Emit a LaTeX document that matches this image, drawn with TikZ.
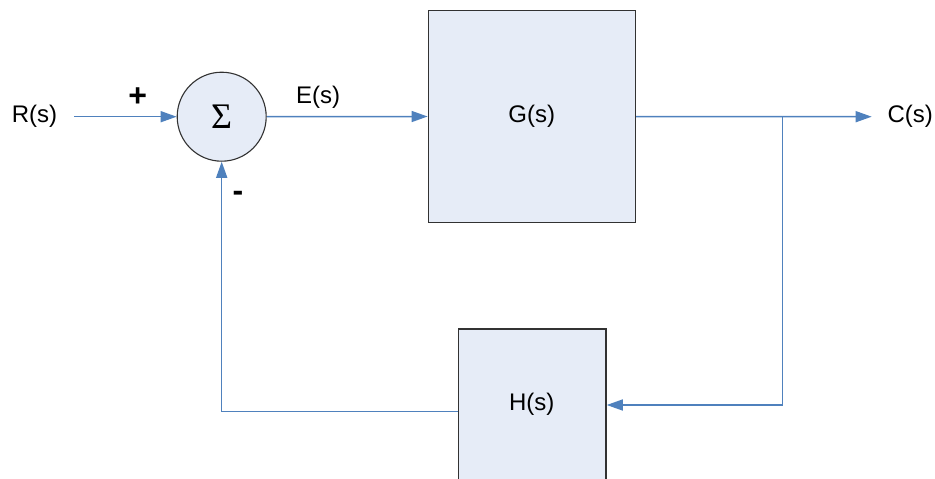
\documentclass[tikz,border=0pt]{standalone}
\usepackage{fontspec}
\setmainfont{Liberation Sans}
\newfontfamily\sigmafont{Liberation Serif}
\usetikzlibrary{arrows.meta}
\definecolor{sigblue}{RGB}{79,129,189}
\definecolor{boxfill}{RGB}{230,236,247}
\definecolor{boxline}{RGB}{50,50,50}
\tikzset{
  sig/.style={draw=sigblue, line width=1.5pt},
  sigarrow/.style={sig, -{Triangle[length=16pt,width=11pt]}},
  blockbox/.style={draw=boxline, fill=boxfill, line width=1.4pt, rectangle, inner sep=0pt},
  sumnode/.style={draw=boxline, fill=boxfill, line width=1.1pt, circle, inner sep=0pt, minimum size=89pt},
  lbl/.style={inner sep=0pt, font=\fontsize{24}{28}\selectfont},
  sgn/.style={inner sep=0pt, font=\fontsize{32}{36}\selectfont\bfseries}
}
\begin{document}
\begin{tikzpicture}[x=1pt,y=-1pt]
\useasboundingbox (0,0) rectangle (935,479);
\node[lbl, anchor=east, minimum width=78.6pt] (R) at (74,116.7) {R(s)};
\node[sumnode] (sum) at (221.7,116.7) {};
\node[inner sep=0pt, font=\sigmafont\fontsize{36}{40}\selectfont] (sig) at (221.7,117) {Σ};
\node[blockbox, minimum width=207pt, minimum height=211.6pt] (G) at (531.8,116.5) {};
\node[lbl] at (G.center) {G(s)};
\node[blockbox, minimum width=147.7pt, minimum height=152pt] (H) at (532.2,405) {};
\node[lbl] (Hl) at (531.7,404.3) {H(s)};
\node[lbl, anchor=west, minimum width=76.6pt] (C) at (871.7,116.7) {C(s)};
\node[lbl] (E) at (318,97) {E(s)};
\node[sgn] (plus) at (137.7,96.7) {+};
\node[sgn] (minus) at (238,196) {-};
\coordinate (br) at (782.7,116.7);
\draw[sigarrow] (R.east) -- (sum.west);
\draw[sigarrow] (sum.east) -- (G.west);
\draw[sigarrow] (G.east) -- (C.west);
\draw[sigarrow] (br) |- (H.east);
\draw[sigarrow] ([yshift=-6.7pt]H.west) -| (sum.south);
\end{tikzpicture}
\end{document}
